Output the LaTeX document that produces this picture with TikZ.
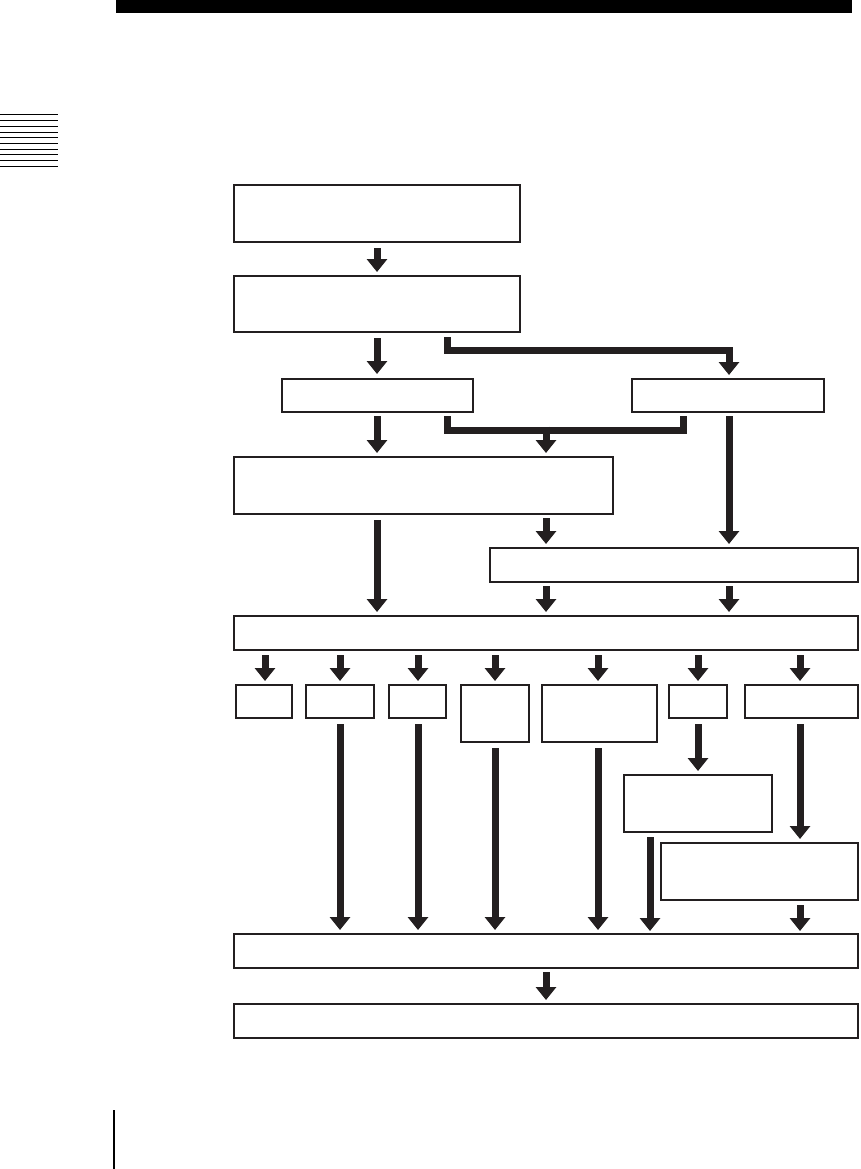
\documentclass[tikz,border=0pt]{standalone}
\usetikzlibrary{arrows.meta,calc}
\definecolor{ink}{HTML}{231F20}
\newcommand\mybox[5]{\node[box,minimum width={#4-#2},minimum height={#5-#3}] (#1) at ({(#2+#4)/2},{(#3+#5)/2}) {};}
\begin{document}
\begin{tikzpicture}[x=1pt,y=-1pt,
  box/.style={draw=ink,line width=1.6pt,inner sep=0pt,outer sep=0pt,fill=white},
  arr/.style={draw=ink,line width=7pt,-{Triangle[width=20pt,length=13pt]},miter limit=10},
  bar/.style={draw=ink,line width=7pt,line join=miter},
  rule/.style={draw=black,line width=1.3pt},
  tabrule/.style={draw=black,line width=1.0pt}]
\useasboundingbox (0,0) rectangle (860,1169);
% page decorations
\fill[black] (116,0) rectangle (852,13);
\foreach \i in {0,...,9} \draw[tabrule] (0,{115+5.67*\i}) -- (58,{115+5.67*\i});
\draw[rule] (114,1110) -- (114,1169);
% columns
\coordinate (c265) at (265,0);
\coordinate (c340) at (340,0);
\coordinate (c377) at (377,0);
\coordinate (c418) at (418,0);
\coordinate (c447) at (447,0);
\coordinate (c495) at (495,0);
\coordinate (c546) at (546,0);
\coordinate (c598) at (598,0);
\coordinate (c650) at (650,0);
\coordinate (c683) at (683,0);
\coordinate (c698) at (698,0);
\coordinate (c729) at (729,0);
\coordinate (c800) at (800,0);
% boxes
\mybox{b1}{234}{185}{520}{242}
\mybox{b2}{234}{276}{520}{332}
\mybox{b3}{282}{379}{473}{412}
\mybox{b4}{632}{379}{824}{412}
\mybox{b5}{234}{457}{613}{514}
\mybox{b6}{490}{548}{858}{582}
\mybox{b7}{234}{616}{858}{650}
\mybox{s1}{236}{685}{292}{718}
\mybox{s2}{306}{685}{374}{718}
\mybox{s3}{389}{685}{446}{718}
\mybox{s4}{461}{685}{529}{742}
\mybox{s5}{542}{685}{657}{742}
\mybox{s6}{669}{685}{727}{718}
\mybox{s7}{745}{685}{858}{718}
\mybox{b8}{624}{775}{772}{832}
\mybox{b9}{661}{843}{858}{900}
\mybox{b10}{234}{934}{858}{968}
\mybox{b11}{234}{1004}{858}{1038}
% connectors
\draw[arr] ($(b1.south)+(0,6)$) -- ($(b2.north)+(0,-4)$);
\draw[arr] ($(b2.south -| c377)+(0,6)$) -- ($(b3.north -| c377)+(0,-5)$);
\draw[arr] ($(b2.south -| c447)+(0,5)$) -- ($(b2.south -| c447)+(0,18)$) -- ($(b2.south -| c729)+(0,18)$) -- ($(b4.north -| c729)+(0,-4)$);
\draw[arr] ($(b3.south -| c377)+(0,4)$) -- ($(b5.north -| c377)+(0,-4)$);
\draw[bar] ($(b3.south -| c447)+(0,4)$) -- ($(b3.south -| c447)+(0,18)$) -- ($(b4.south -| c683)+(0,18)$) -- ($(b4.south -| c683)+(0,4)$);
\draw[arr] ($(b3.south -| c546)+(0,14.5)$) -- ($(b5.north -| c546)+(0,-4)$);
\draw[arr] ($(b4.south -| c729)+(0,4)$) -- ($(b6.north -| c729)+(0,-4)$);
\draw[arr] ($(b5.south -| c377)+(0,6)$) -- ($(b7.north -| c377)+(0,-4)$);
\draw[arr] ($(b5.south -| c546)+(0,4)$) -- ($(b6.north -| c546)+(0,-4)$);
\draw[arr] ($(b6.south -| c546)+(0,4)$) -- ($(b7.north -| c546)+(0,-4)$);
\draw[arr] ($(b6.south -| c729)+(0,4)$) -- ($(b7.north -| c729)+(0,-4)$);
\foreach \s/\c in {s1/c265,s2/c340,s3/c418,s4/c495,s5/c598,s6/c698,s7/c800}
  \draw[arr] ($(b7.south -| \c)+(0,5)$) -- ($(\s.north -| \c)+(0,-4)$);
\draw[arr] ($(s2.south -| c340)+(0,6)$) -- ($(b10.north -| c340)+(0,-4)$);
\draw[arr] ($(s3.south -| c418)+(0,6)$) -- ($(b10.north -| c418)+(0,-4)$);
\draw[arr] ($(s4.south -| c495)+(0,6)$) -- ($(b10.north -| c495)+(0,-4)$);
\draw[arr] ($(s5.south -| c598)+(0,6)$) -- ($(b10.north -| c598)+(0,-4)$);
\draw[arr] ($(s6.south -| c698)+(0,6)$) -- ($(b8.north -| c698)+(0,-4)$);
\draw[arr] ($(s7.south -| c800)+(0,6)$) -- ($(b9.north -| c800)+(0,-4)$);
\draw[arr] ($(b8.south -| c650)+(0,5)$) -- ($(b10.north -| c650)+(0,-3)$);
\draw[arr] ($(b9.south -| c800)+(0,5)$) -- ($(b10.north -| c800)+(0,-3)$);
\draw[arr] ($(b10.south -| c546)+(0,4)$) -- ($(b11.north -| c546)+(0,-4)$);
\end{tikzpicture}
\end{document}
